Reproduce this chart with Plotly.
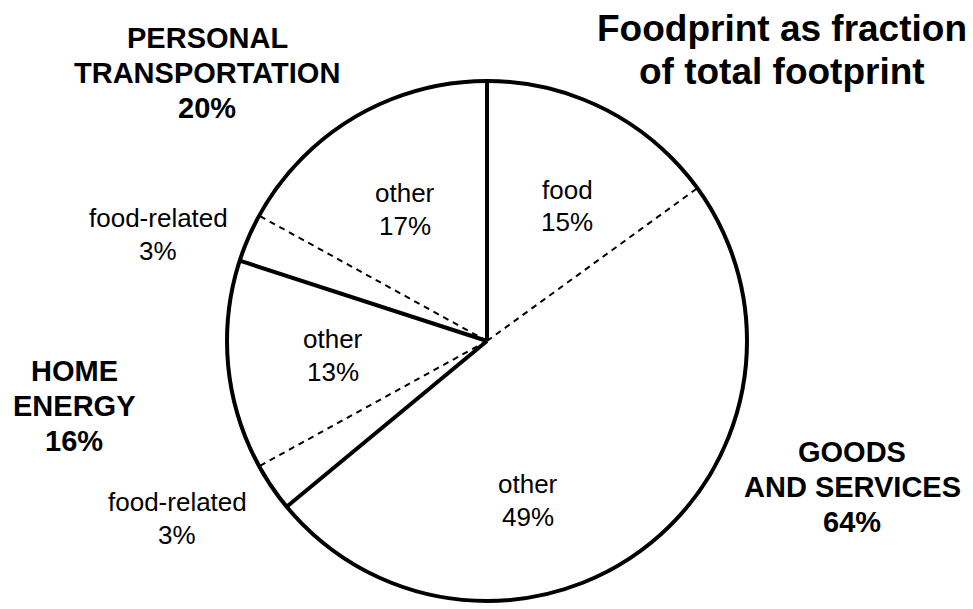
import numpy as np
import plotly.graph_objects as go

# ---------------- data ----------------
slice_labels = ["food", "other", "food-related", "other", "food-related", "other"]
slice_values = [15, 49, 3, 13, 3, 17]
slice_groups = ["GOODS AND SERVICES", "GOODS AND SERVICES", "HOME ENERGY", "HOME ENERGY",
                "PERSONAL TRANSPORTATION", "PERSONAL TRANSPORTATION"]
group_names = [["GOODS", "AND SERVICES"], ["HOME", "ENERGY"], ["PERSONAL", "TRANSPORTATION"]]
group_values = [64, 16, 20]
title_lines = ["Foodprint as fraction", "of total footprint"]

# ---------------- layout helpers ----------------
W, H = 973, 609
FONT = "Liberation Sans, Arial, Helvetica, sans-serif"

# label centres (pixels) for slices and groups
slice_label_pos = [(567, 206), (528, 500), (177, 518), (333, 355), (158, 234), (405, 209)]
group_label_pos = [(852, 487), (74, 406), (207, 73)]
title_pos = (782, 50)

vals = np.array(slice_values, dtype=float)
spans = vals / vals.sum() * 360.0
starts = np.concatenate([[0.0], np.cumsum(spans)[:-1]])
mids = starts + spans / 2

fig = go.Figure()

# slices (white wedges)
fig.add_trace(go.Barpolar(
    r=[1] * len(vals), theta=mids, width=spans,
    marker=dict(color="white", line=dict(width=0)),
    hoverinfo="skip", showlegend=False,
))

# boundary lines: solid between groups, dashed within a group
for i in range(len(vals)):
    prev = slice_groups[i - 1]
    solid = prev != slice_groups[i]
    fig.add_trace(go.Scatterpolar(
        r=[0, 1], theta=[starts[i], starts[i]], mode="lines",
        line=dict(color="black", width=4 if solid else 2,
                  dash="solid" if solid else "6px,5px"),
        hoverinfo="skip", showlegend=False,
    ))

cx, cy, rad = 487, 341, 260
fig.update_layout(
    width=W, height=H,
    margin=dict(l=0, r=0, t=0, b=0),
    paper_bgcolor="white", plot_bgcolor="white",
    polar=dict(
        domain=dict(x=[(cx - rad) / W, (cx + rad) / W],
                    y=[1 - (cy + rad) / H, 1 - (cy - rad) / H]),
        bgcolor="white",
        angularaxis=dict(rotation=90, direction="clockwise", showline=True,
                         linecolor="black", linewidth=4, showgrid=False,
                         showticklabels=False, ticks=""),
        radialaxis=dict(visible=False, range=[0, 1]),
    ),
)

ann = []


def add_block(lines, x, y, size, spacing, bold):
    n = len(lines)
    for k, t in enumerate(lines):
        yy = y + (k - (n - 1) / 2) * spacing
        ann.append(dict(text=f"<b>{t}</b>" if bold else t, x=x / W, y=1 - yy / H,
                        xref="paper", yref="paper", xanchor="center", yanchor="middle",
                        showarrow=False, font=dict(family=FONT, size=size, color="black")))


for lab, v, (x, y) in zip(slice_labels, slice_values, slice_label_pos):
    add_block([lab, f"{v}%"], x, y, 26, 33, False)
for g, v, (x, y) in zip(group_names, group_values, group_label_pos):
    add_block(g + [f"{v}%"], x, y, 29, 35, True)
add_block(title_lines, title_pos[0], title_pos[1], 37, 43, True)
fig.update_layout(annotations=ann)

fig.write_html("out.html", post_script="document.body.style.margin='0';",
               config={"displayModeBar": False})
